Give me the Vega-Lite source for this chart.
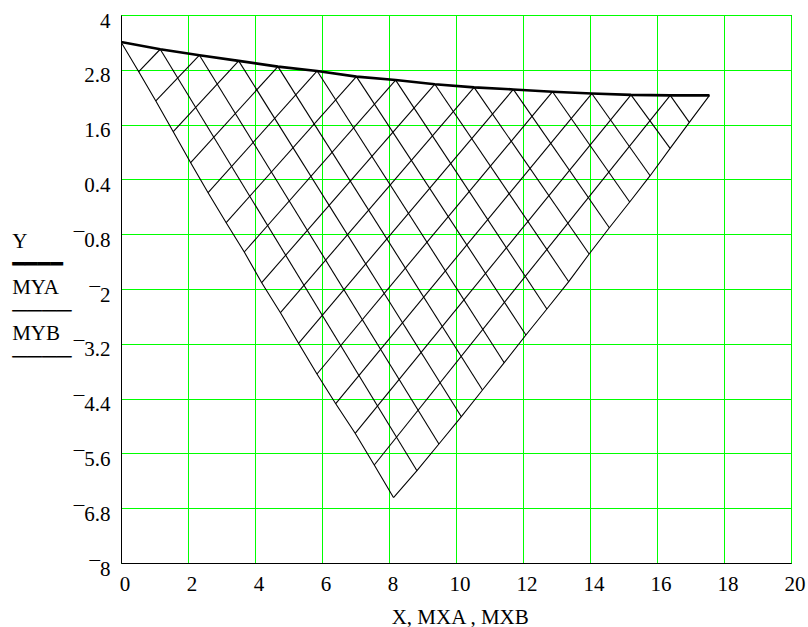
{
  "$schema": "https://vega.github.io/schema/vega-lite/v6.json",
  "width": 670,
  "height": 548,
  "autosize": {"type": "none"},
  "padding": {"left": 121, "top": 15, "right": 17, "bottom": 64},
  "background": "white",
  "config": {"view": {"stroke": "black", "strokeWidth": 1}, "font": "Liberation Serif"},
  "datasets": {
    "mesh": [
      {"id": "A0", "o": 0, "x": 0, "y": 3.41},
      {"id": "A0", "o": 1, "x": 0.53, "y": 2.758},
      {"id": "A0", "o": 2, "x": 1.04, "y": 2.117},
      {"id": "A0", "o": 3, "x": 1.56, "y": 1.445},
      {"id": "A0", "o": 4, "x": 2.08, "y": 0.766},
      {"id": "A0", "o": 5, "x": 2.6, "y": 0.109},
      {"id": "A0", "o": 6, "x": 3.14, "y": -0.548},
      {"id": "A0", "o": 7, "x": 3.68, "y": -1.19},
      {"id": "A0", "o": 8, "x": 4.2, "y": -1.862},
      {"id": "A0", "o": 9, "x": 4.76, "y": -2.519},
      {"id": "A0", "o": 10, "x": 5.3, "y": -3.189},
      {"id": "A0", "o": 11, "x": 5.85, "y": -3.861},
      {"id": "A0", "o": 12, "x": 6.41, "y": -4.512},
      {"id": "A0", "o": 13, "x": 6.99, "y": -5.16},
      {"id": "A0", "o": 14, "x": 7.56, "y": -5.854},
      {"id": "A0", "o": 15, "x": 8.134, "y": -6.566},
      {"id": "A1", "o": 0, "x": 1.171, "y": 3.25},
      {"id": "A1", "o": 1, "x": 8.835, "y": -5.979},
      {"id": "A2", "o": 0, "x": 2.342, "y": 3.12},
      {"id": "A2", "o": 1, "x": 9.49, "y": -5.394},
      {"id": "A3", "o": 0, "x": 3.513, "y": 2.995},
      {"id": "A3", "o": 1, "x": 10.16, "y": -4.796},
      {"id": "A4", "o": 0, "x": 4.684, "y": 2.87},
      {"id": "A4", "o": 1, "x": 10.79, "y": -4.212},
      {"id": "A5", "o": 0, "x": 5.856, "y": 2.775},
      {"id": "A5", "o": 1, "x": 11.44, "y": -3.614},
      {"id": "A6", "o": 0, "x": 7.027, "y": 2.65},
      {"id": "A6", "o": 1, "x": 12.087, "y": -3.007},
      {"id": "A7", "o": 0, "x": 8.198, "y": 2.575},
      {"id": "A7", "o": 1, "x": 12.713, "y": -2.438},
      {"id": "A8", "o": 0, "x": 9.369, "y": 2.485},
      {"id": "A8", "o": 1, "x": 13.365, "y": -1.84},
      {"id": "A9", "o": 0, "x": 10.54, "y": 2.415},
      {"id": "A9", "o": 1, "x": 13.975, "y": -1.234},
      {"id": "A10", "o": 0, "x": 11.711, "y": 2.37},
      {"id": "A10", "o": 1, "x": 14.577, "y": -0.658},
      {"id": "A11", "o": 0, "x": 12.882, "y": 2.32},
      {"id": "A11", "o": 1, "x": 15.185, "y": -0.095},
      {"id": "A12", "o": 0, "x": 14.053, "y": 2.28},
      {"id": "A12", "o": 1, "x": 15.795, "y": 0.481},
      {"id": "A13", "o": 0, "x": 15.224, "y": 2.25},
      {"id": "A13", "o": 1, "x": 16.392, "y": 1.081},
      {"id": "A14", "o": 0, "x": 16.395, "y": 2.24},
      {"id": "A14", "o": 1, "x": 16.965, "y": 1.65},
      {"id": "B1", "o": 0, "x": 0.53, "y": 2.758},
      {"id": "B1", "o": 1, "x": 1.171, "y": 3.25},
      {"id": "B2", "o": 0, "x": 1.04, "y": 2.117},
      {"id": "B2", "o": 1, "x": 2.342, "y": 3.12},
      {"id": "B3", "o": 0, "x": 1.56, "y": 1.445},
      {"id": "B3", "o": 1, "x": 3.513, "y": 2.995},
      {"id": "B4", "o": 0, "x": 2.08, "y": 0.766},
      {"id": "B4", "o": 1, "x": 4.684, "y": 2.87},
      {"id": "B5", "o": 0, "x": 2.6, "y": 0.109},
      {"id": "B5", "o": 1, "x": 5.856, "y": 2.775},
      {"id": "B6", "o": 0, "x": 3.14, "y": -0.548},
      {"id": "B6", "o": 1, "x": 7.027, "y": 2.65},
      {"id": "B7", "o": 0, "x": 3.68, "y": -1.19},
      {"id": "B7", "o": 1, "x": 8.198, "y": 2.575},
      {"id": "B8", "o": 0, "x": 4.2, "y": -1.862},
      {"id": "B8", "o": 1, "x": 9.369, "y": 2.485},
      {"id": "B9", "o": 0, "x": 4.76, "y": -2.519},
      {"id": "B9", "o": 1, "x": 10.54, "y": 2.415},
      {"id": "B10", "o": 0, "x": 5.3, "y": -3.189},
      {"id": "B10", "o": 1, "x": 11.711, "y": 2.37},
      {"id": "B11", "o": 0, "x": 5.85, "y": -3.861},
      {"id": "B11", "o": 1, "x": 12.882, "y": 2.32},
      {"id": "B12", "o": 0, "x": 6.41, "y": -4.512},
      {"id": "B12", "o": 1, "x": 14.053, "y": 2.28},
      {"id": "B13", "o": 0, "x": 6.99, "y": -5.16},
      {"id": "B13", "o": 1, "x": 15.224, "y": 2.25},
      {"id": "B14", "o": 0, "x": 7.56, "y": -5.854},
      {"id": "B14", "o": 1, "x": 16.395, "y": 2.24},
      {"id": "B15", "o": 0, "x": 8.134, "y": -6.566},
      {"id": "B15", "o": 1, "x": 8.835, "y": -5.979},
      {"id": "B15", "o": 2, "x": 9.49, "y": -5.394},
      {"id": "B15", "o": 3, "x": 10.16, "y": -4.796},
      {"id": "B15", "o": 4, "x": 10.79, "y": -4.212},
      {"id": "B15", "o": 5, "x": 11.44, "y": -3.614},
      {"id": "B15", "o": 6, "x": 12.087, "y": -3.007},
      {"id": "B15", "o": 7, "x": 12.713, "y": -2.438},
      {"id": "B15", "o": 8, "x": 13.365, "y": -1.84},
      {"id": "B15", "o": 9, "x": 13.975, "y": -1.234},
      {"id": "B15", "o": 10, "x": 14.577, "y": -0.658},
      {"id": "B15", "o": 11, "x": 15.185, "y": -0.095},
      {"id": "B15", "o": 12, "x": 15.795, "y": 0.481},
      {"id": "B15", "o": 13, "x": 16.392, "y": 1.081},
      {"id": "B15", "o": 14, "x": 16.965, "y": 1.65},
      {"id": "B15", "o": 15, "x": 17.567, "y": 2.24}
    ],
    "curve": [
      {"o": 0, "x": 0, "y": 3.41},
      {"o": 1, "x": 1.171, "y": 3.25},
      {"o": 2, "x": 2.342, "y": 3.12},
      {"o": 3, "x": 3.513, "y": 2.995},
      {"o": 4, "x": 4.684, "y": 2.87},
      {"o": 5, "x": 5.856, "y": 2.775},
      {"o": 6, "x": 7.027, "y": 2.65},
      {"o": 7, "x": 8.198, "y": 2.575},
      {"o": 8, "x": 9.369, "y": 2.485},
      {"o": 9, "x": 10.54, "y": 2.415},
      {"o": 10, "x": 11.711, "y": 2.37},
      {"o": 11, "x": 12.882, "y": 2.32},
      {"o": 12, "x": 14.053, "y": 2.28},
      {"o": 13, "x": 15.224, "y": 2.25},
      {"o": 14, "x": 16.395, "y": 2.24},
      {"o": 15, "x": 17.567, "y": 2.24}
    ]
  },
  "encoding": {
    "x": {
      "field": "x",
      "type": "quantitative",
      "scale": {"domain": [0, 20], "nice": false, "zero": false},
      "axis": {
        "values": [0, 2, 4, 6, 8, 10, 12, 14, 16, 18, 20],
        "grid": true,
        "gridColor": "#00ff00",
        "gridWidth": 1,
        "gridOpacity": 1,
        "ticks": false,
        "tickSize": 0,
        "domain": true,
        "domainColor": "black",
        "domainWidth": 1,
        "labelFont": "Liberation Serif",
        "labelFontSize": 21,
        "labelColor": "black",
        "labelPadding": 27,
        "labelBaseline": "alphabetic",
        "labelOffset": 3.5,
        "labelFlush": false,
        "labelOverlap": false,
        "labelBound": false,
        "title": "X, MXA , MXB",
        "titleFont": "Liberation Serif",
        "titleFontSize": 21,
        "titleFontWeight": "normal",
        "titleColor": "black",
        "titleAlign": "center",
        "titleBaseline": "alphabetic",
        "titleX": 338.7,
        "titleY": 60
      }
    },
    "y": {
      "field": "y",
      "type": "quantitative",
      "scale": {"domain": [-8, 4], "nice": false, "zero": false},
      "axis": {
        "values": [4, 2.8, 1.6, 0.4, -0.8, -2, -3.2, -4.4, -5.6, -6.8, -8],
        "grid": true,
        "gridColor": "#00ff00",
        "gridWidth": 1,
        "gridOpacity": 1,
        "ticks": false,
        "tickSize": 0,
        "domain": true,
        "domainColor": "black",
        "domainWidth": 1,
        "labelExpr": "(datum.value < 0 ? '¯' : '') + abs(datum.value)",
        "labelFont": "Liberation Serif",
        "labelFontSize": 21,
        "labelColor": "black",
        "labelAlign": "right",
        "labelBaseline": "alphabetic",
        "labelOffset": 12,
        "labelPadding": 11,
        "labelFlush": false,
        "labelOverlap": false,
        "labelBound": false,
        "title": ["\u00a0Y", "━━━━", "\u00a0MYA", "────", "\u00a0MYB", "────"],
        "titleFont": "Liberation Serif, DejaVu Sans",
        "titleFontSize": 21,
        "titleFontWeight": "normal",
        "titleColor": "black",
        "titleAngle": 0,
        "titleAlign": "left",
        "titleBaseline": "alphabetic",
        "titleLineHeight": 23,
        "titleX": -109.3,
        "titleY": 232
      }
    }
  },
  "layer": [
    {
      "data": {"name": "mesh"},
      "mark": {"type": "line", "color": "black", "strokeWidth": 1.1, "clip": true},
      "encoding": {
        "detail": {"field": "id", "type": "nominal"},
        "order": {"field": "o", "type": "quantitative"}
      }
    },
    {
      "data": {"name": "curve"},
      "mark": {"type": "line", "color": "black", "strokeWidth": 2.6, "clip": true},
      "encoding": {
        "order": {"field": "o", "type": "quantitative"}
      }
    }
  ]
}
